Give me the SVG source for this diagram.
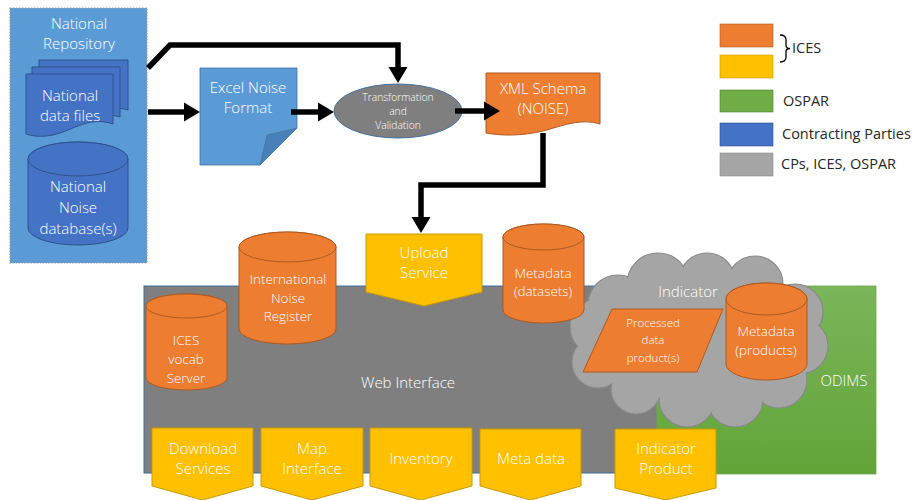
<svg xmlns="http://www.w3.org/2000/svg" width="919" height="500" viewBox="0 0 919 500">
<style>
  text { font-family: "Open Sans", "Noto Sans", sans-serif; fill: #FFFFFF; text-anchor: middle; font-weight: 300; }
  .t15 { font-size: 15px; }
  .t13 { font-size: 13.4px; }
  .lg { font-size: 14.5px; fill: #262626; text-anchor: start; font-weight: 400; }
  .orange { fill: #ED7D31; stroke: #AE5A21; stroke-width: 1; }
  .yellow { fill: #FFC000; stroke: #C99A00; stroke-width: 1; }
  .blue { fill: #4472C4; stroke: #2F528F; stroke-width: 1; }
  .lblue { fill: #5B9BD5; stroke: #41719C; stroke-width: 0.8; }
  .conn { fill: none; stroke: #000000; stroke-width: 5.5; stroke-linejoin: miter; }
</style>
<defs>
  <marker id="ah" markerUnits="userSpaceOnUse" markerWidth="18" markerHeight="20" refX="6" refY="10" orient="auto">
    <path d="M0,0.5 L16,10 L0,19.5 Z" fill="#000000"/>
  </marker>
  <linearGradient id="grn" x1="0" y1="0" x2="0" y2="1">
    <stop offset="0" stop-color="#7AB65A"/>
    <stop offset="1" stop-color="#62A438"/>
  </linearGradient>
</defs>

<!-- Web interface / ODIMS background -->
<g id="web-interface">
  <rect x="144" y="286" width="520" height="187" fill="#7F7F7F" stroke="#41719C" stroke-width="1"/>
</g>
<g id="odims">
  <rect x="657" y="286" width="219" height="188" fill="url(#grn)" stroke="#6FA84C" stroke-width="0.8"/>
  <text class="t15" x="844" y="386">ODIMS</text>
</g>
<g id="web-interface-label">
  <text class="t15" x="408" y="388">Web Interface</text>
</g>

<!-- Indicator cloud -->
<g id="indicator-cloud">
  <g fill="#A5A5A5" stroke="#8A8A8A" stroke-width="1.2">
    <circle cx="618" cy="305" r="30"/>
    <circle cx="658" cy="284" r="31"/>
    <circle cx="707" cy="281" r="28"/>
    <circle cx="755" cy="284" r="28"/>
    <circle cx="795" cy="312" r="28"/>
    <circle cx="800" cy="346" r="28"/>
    <circle cx="779" cy="380" r="28"/>
    <circle cx="735" cy="399" r="28"/>
    <circle cx="687" cy="399" r="28"/>
    <circle cx="636" cy="389" r="25"/>
    <circle cx="598" cy="362" r="26"/>
    <circle cx="598" cy="327" r="28"/>
  </g>
  <g fill="#A5A5A5">
    <circle cx="618" cy="305" r="29"/>
    <circle cx="658" cy="284" r="30"/>
    <circle cx="707" cy="281" r="27"/>
    <circle cx="755" cy="284" r="27"/>
    <circle cx="795" cy="312" r="27"/>
    <circle cx="800" cy="346" r="27"/>
    <circle cx="779" cy="380" r="27"/>
    <circle cx="735" cy="399" r="27"/>
    <circle cx="687" cy="399" r="27"/>
    <circle cx="636" cy="389" r="24"/>
    <circle cx="598" cy="362" r="25"/>
    <circle cx="598" cy="327" r="27"/>
    <ellipse cx="700" cy="340" rx="105" ry="62"/>
  </g>
  <text class="t15" x="688" y="297">Indicator</text>
</g>

<!-- National Repository -->
<g id="national-repository">
  <rect x="10" y="8" width="137" height="255" fill="#5B9BD5" stroke="#A0A0A0" stroke-width="1.2" stroke-dasharray="1.5,1.5"/>
  <text class="t15" x="79" y="29">National</text>
  <text class="t15" x="79" y="49">Repository</text>
</g>
<g id="national-data-files">
  <path class="blue" d="M39,60 H128 V110 C115,106 105,110 95,114 L39,114 Z"/>
  <path class="blue" d="M32,67 H120 V117 C108,113 98,117 88,121 L32,121 Z"/>
  <path class="blue" d="M26,74 H113 V124 C96,118 82,124 68,130 C52,137 38,138 26,134 Z"/>
  <text class="t15" x="70" y="101">National</text>
  <text class="t15" x="70" y="121">data files</text>
</g>
<g id="national-noise-database">
  <path class="blue" d="M28,159 V228 A50,17 0 0 0 128,228 V159 A50,17 0 0 0 28,159 Z"/>
  <ellipse class="blue" cx="78" cy="159" rx="50" ry="17"/>
  <text class="t15" x="78" y="192">National</text>
  <text class="t15" x="78" y="213">Noise</text>
  <text class="t15" x="78" y="234">database(s)</text>
</g>

<!-- Excel Noise Format -->
<g id="excel-noise-format">
  <path class="lblue" d="M200,68 H297 V128 L260,165 H200 Z"/>
  <path d="M297,128 L267,135 L260,165 Z" fill="#4A80B8" stroke="#41719C" stroke-width="0.6"/>
  <text class="t15" x="248" y="93">Excel Noise</text>
  <text class="t15" x="248" y="113">Format</text>
</g>

<!-- Transformation and Validation -->
<g id="transformation-validation">
  <ellipse cx="398" cy="111" rx="64" ry="27" fill="#7F7F7F" stroke="#41719C" stroke-width="1"/>
  <text x="398" y="101" style="font-size:10.3px">Transformation</text>
  <text x="398" y="115" style="font-size:10.3px">and</text>
  <text x="398" y="129" style="font-size:10.3px">Validation</text>
</g>

<!-- XML Schema -->
<g id="xml-schema">
  <path class="orange" d="M486,73 H600 V124 C580,118 562,126 543,131 C522,136 502,136 486,133 Z"/>
  <text class="t15" x="543" y="94">XML Schema</text>
  <text class="t15" x="543" y="114">(NOISE)</text>
</g>

<!-- Connectors -->
<g id="connectors">
  <polyline class="conn" points="148,68 170,45 398,45 398,73" marker-end="url(#ah)"/>
  <line class="conn" x1="148" y1="112" x2="190" y2="112" marker-end="url(#ah)"/>
  <line class="conn" x1="291" y1="112" x2="324" y2="112" marker-end="url(#ah)"/>
  <line class="conn" x1="455" y1="111" x2="490" y2="111" marker-end="url(#ah)"/>
  <polyline class="conn" points="543,133 543,185 421,185 421,223" marker-end="url(#ah)"/>
</g>

<!-- Cylinders -->
<g id="international-noise-register">
  <path class="orange" d="M239,247 V329 A48.5,15 0 0 0 336,329 V247 A48.5,15 0 0 0 239,247 Z"/>
  <ellipse class="orange" cx="287.5" cy="247" rx="48.5" ry="15"/>
  <text class="t13" x="288" y="284">International</text>
  <text class="t13" x="288" y="303">Noise</text>
  <text class="t13" x="288" y="321">Register</text>
</g>
<g id="ices-vocab-server">
  <path class="orange" d="M146,306 V378 A40.5,12 0 0 0 227,378 V306 A40.5,12 0 0 0 146,306 Z"/>
  <ellipse class="orange" cx="186.5" cy="306" rx="40.5" ry="12"/>
  <text class="t13" x="186" y="345">ICES</text>
  <text class="t13" x="186" y="364">vocab</text>
  <text class="t13" x="186" y="383">Server</text>
</g>
<g id="metadata-datasets">
  <path class="orange" d="M503,237 V310 A40.5,13 0 0 0 584,310 V237 A40.5,13 0 0 0 503,237 Z"/>
  <ellipse class="orange" cx="543.5" cy="237" rx="40.5" ry="13"/>
  <text class="t13" x="543" y="278">Metadata</text>
  <text class="t13" x="543" y="296">(datasets)</text>
</g>
<g id="processed-data-products">
  <path class="orange" d="M612,309 H723 L697,372 H583 Z"/>
  <text x="653" y="327" style="font-size:11.5px">Processed</text>
  <text x="653" y="344" style="font-size:11.5px">data</text>
  <text x="653" y="362" style="font-size:11.5px">product(s)</text>
</g>
<g id="metadata-products">
  <path class="orange" d="M726,299 V364 A40.5,16 0 0 0 807,364 V299 A40.5,16 0 0 0 726,299 Z"/>
  <ellipse class="orange" cx="766.5" cy="299" rx="40.5" ry="16"/>
  <text class="t13" x="766" y="336">Metadata</text>
  <text class="t13" x="766" y="355">(products)</text>
</g>

<!-- Upload Service -->
<g id="upload-service">
  <path class="yellow" d="M366,234 H482 V292 L424,306 L366,292 Z"/>
  <text class="t15" x="424" y="258">Upload</text>
  <text class="t15" x="424" y="278">Service</text>
</g>

<!-- Bottom services -->
<g id="download-services">
  <path class="yellow" d="M152,428 H253 V486 L202.5,500 L152,486 Z"/>
  <text class="t15" x="203" y="454">Download</text>
  <text class="t15" x="203" y="474">Services</text>
</g>
<g id="map-interface">
  <path class="yellow" d="M261,428 H363 V486 L312,500 L261,486 Z"/>
  <text class="t15" x="312" y="454">Map</text>
  <text class="t15" x="312" y="474">Interface</text>
</g>
<g id="inventory">
  <path class="yellow" d="M370,428 H472 V486 L421,500 L370,486 Z"/>
  <text class="t15" x="421" y="464">Inventory</text>
</g>
<g id="meta-data">
  <path class="yellow" d="M480,429 H581 V486 L530.5,500 L480,486 Z"/>
  <text class="t15" x="531" y="464">Meta data</text>
</g>
<g id="indicator-product">
  <path class="yellow" d="M615,429 H716 V488 L665.5,500 L615,488 Z"/>
  <text class="t15" x="666" y="454">Indicator</text>
  <text class="t15" x="666" y="474">Product</text>
</g>

<!-- Legend -->
<g id="legend">
  <rect x="720" y="24" width="53" height="23" fill="#ED7D31" stroke="#AE5A21" stroke-width="0.6"/>
  <rect x="720" y="55" width="53" height="23" fill="#FFC000" stroke="#C99A00" stroke-width="0.6"/>
  <rect x="720" y="90" width="53" height="22" fill="#70AD47" stroke="#507E32" stroke-width="0.6"/>
  <rect x="720" y="123" width="53" height="23" fill="#4472C4" stroke="#2F528F" stroke-width="0.6"/>
  <rect x="720" y="153" width="53" height="23" fill="#A5A5A5" stroke="#8A8A8A" stroke-width="0.6"/>
  <path d="M780,35 Q786,35 786,40 V45 Q786,48.5 790,48.5 Q786,48.5 786,52 V57 Q786,62 780,62" fill="none" stroke="#000000" stroke-width="1.3"/>
  <text class="lg" x="792" y="53">ICES</text>
  <text class="lg" x="783" y="106">OSPAR</text>
  <text class="lg" x="782" y="139">Contracting Parties</text>
  <text class="lg" x="781" y="169">CPs, ICES, OSPAR</text>
</g>
</svg>
